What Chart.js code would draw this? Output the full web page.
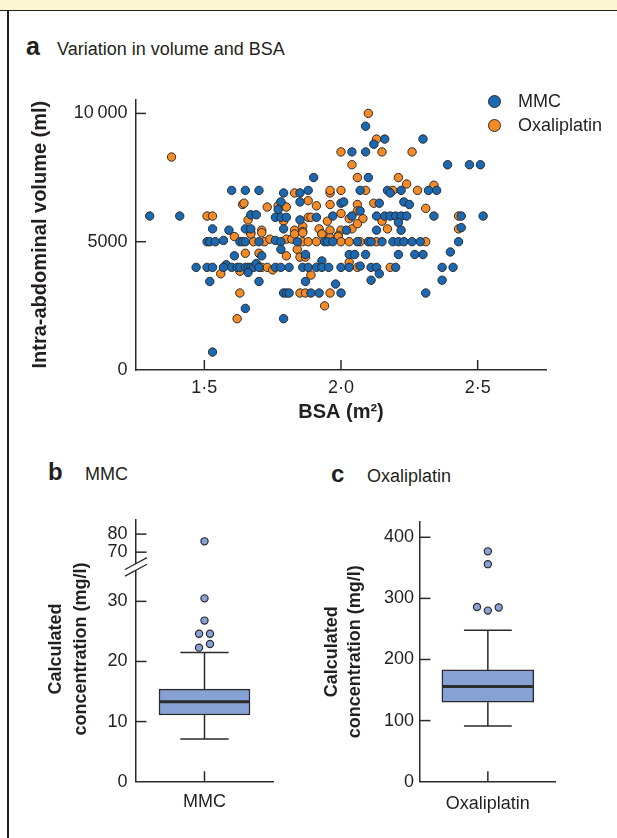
<!DOCTYPE html>
<html><head><meta charset="utf-8">
<script src="https://cdn.jsdelivr.net/npm/chart.js@4.4.1/dist/chart.umd.min.js"></script>
<style>
html,body{margin:0;padding:0;background:#fff;}
body{width:617px;height:838px;position:relative;overflow:hidden;font-family:'Liberation Sans',Arial,Helvetica,sans-serif;color:#231f20;}
.abs{position:absolute;white-space:nowrap;line-height:1;}
#band{position:absolute;left:0;top:0;width:617px;height:10px;background:#fcf5d2;border-bottom:1.5px solid #222;}
#vline{position:absolute;left:7px;top:11px;width:1.5px;height:827px;background:#222;}
canvas{position:absolute;}
</style></head>
<body>
<div id="band"></div>
<div id="vline"></div>
<canvas id="cA" width="617" height="350" style="left:0;top:80px"></canvas>
<canvas id="cB" width="300" height="330" style="left:0;top:500px"></canvas>
<canvas id="cC" width="317" height="330" style="left:300px;top:500px"></canvas>

<div class="abs" style="left:26px;top:34px;font-size:25px;font-weight:bold;">a</div>
<div class="abs" style="left:57px;top:40px;font-size:18px;">Variation in volume and BSA</div>
<div class="abs" style="left:48px;top:460px;font-size:24px;font-weight:bold;">b</div>
<div class="abs" style="left:85px;top:465px;font-size:18px;">MMC</div>
<div class="abs" style="left:331px;top:462px;font-size:24px;font-weight:bold;">c</div>
<div class="abs" style="left:367px;top:467px;font-size:18px;">Oxaliplatin</div>
<div id="titleB" class="abs" style="left:-82.5px;top:624px;width:300px;height:50px;text-align:center;font-size:18px;font-weight:bold;line-height:25px;transform:rotate(-90deg);">Calculated<br>concentration (mg/l)</div>
<div id="legend"></div>

<script>
// ---------------- DATA ----------------
const seriesNames = ['MMC', 'Oxaliplatin'];
const scatterXTicks = [1.5, 2.0, 2.5];
const scatterYTicks = [0, 5000, 10000];

// [BSA (m²), intra-abdominal volume (ml)]
const mmcPoints = [
 [1.30,6000],[1.41,6000],[1.60,7000],[1.65,7000],[1.70,7000],[1.79,6900],[1.85,6900],[1.88,7000],[1.90,7500],
 [1.78,6550],[1.85,6550],[1.77,6250],[1.67,6050],[1.69,6050],[1.76,5950],[1.78,5950],[1.80,5950],[1.85,5850],[1.91,5950],
 [1.53,5500],[1.59,5450],[1.65,5500],[1.67,5500],[1.79,5500],
 [2.09,9500],[2.16,9000],[2.12,8800],[2.30,9000],[2.04,8500],[2.09,8500],[2.39,8000],[2.47,8000],[2.51,8000],[2.10,7500],
 [2.07,7000],[2.17,7000],[2.18,6900],[2.22,7000],[2.32,7000],[2.35,7000],
 [2.00,6500],[2.01,6550],[2.14,6500],[2.23,6550],[2.25,6450],[2.34,6000],[2.44,6000],[2.52,6000],[2.07,6200],[1.97,6000],[2.04,6000],
 [2.13,6000],[2.16,6000],[2.18,6000],[2.20,6000],[2.22,6000],[2.24,6000],[2.21,5750],[2.22,5450],[2.13,5450],[2.44,5550],[2.02,5450],
 [1.51,5000],[1.52,5000],[1.54,5000],[1.57,5050],[1.63,5000],[1.64,5000],[1.65,5000],[1.70,5000],[1.76,5050],[1.78,5000],
 [1.84,5000],[1.94,5000],[1.95,5000],[1.97,5000],[2.06,5000],[2.10,5000],[2.11,5000],[2.15,5000],[2.19,5000],[2.21,5000],
 [2.23,5000],[2.26,5000],[2.29,5000],[2.43,5000],
 [1.61,4450],[1.71,4450],[1.78,4700],[1.87,4500],[1.93,4250],[2.03,4500],[2.05,4500],[2.09,4500],[2.21,4500],[2.27,4500],
 [2.30,4500],[2.40,4600],[1.58,4100],
 [1.47,4000],[1.51,4000],[1.53,4000],[1.57,4000],[1.60,4000],[1.62,4000],[1.63,4000],[1.65,4000],[1.66,4000],[1.67,4000],
 [1.68,4000],[1.69,4150],[1.70,4000],[1.76,4000],[1.78,4000],[1.81,4000],[1.86,4000],[1.88,4000],[1.91,4000],[1.93,4000],
 [1.955,4000],[2.00,4000],[2.03,4000],[2.07,4050],[2.11,4000],[2.13,4000],[2.20,4000],[2.37,4000],[2.41,4000],
 [1.52,3450],[1.70,3450],[1.87,3450],[2.14,3750],[1.98,3350],[2.11,3500],[2.37,3500],[1.66,3800],
 [1.79,3000],[1.80,3000],[1.81,3000],[1.89,3000],[1.92,3000],[2.00,3000],[2.31,3000],
 [1.65,2400],[1.79,2000],[1.53,700]
];
const oxaPoints = [
 [1.38,8300],[1.51,6000],[1.53,6000],[1.64,6450],[1.645,6500],[1.73,6350],[1.77,6400],[1.79,6400],[1.80,6350],[1.83,6900],
 [1.88,6600],[1.91,6400],[1.96,6900],[1.96,6450],
 [1.66,5850],[1.79,5800],[1.88,5950],[1.89,5950],[1.95,5800],[1.67,5350],[1.71,5450],[1.83,5450],[1.86,5600],[1.86,5400],
 [1.92,5500],[1.93,5300],[1.96,5450],[1.61,5200],
 [2.10,10000],[2.13,9000],[2.00,8500],[2.15,8500],[2.26,8500],[2.04,8000],[2.06,7500],[2.21,7500],[2.24,7250],[2.34,7200],
 [1.96,7000],[2.00,7000],[2.09,7000],[2.19,7000],[2.28,7000],[2.06,6450],[2.12,6500],[2.31,6300],[2.43,6000],[2.00,6100],[2.06,6200],
 [2.03,5900],[2.08,5900],[2.15,5800],[2.17,5500],[2.43,5500],[2.00,5450],[2.04,5500],[2.06,5700],[1.99,5250],[1.96,5150],[1.99,5200],
 [1.68,5000],[1.72,5000],[1.74,5100],[1.80,5100],[1.82,5100],[1.86,5000],[1.88,5000],[1.91,5000],[2.00,5000],[2.03,5000],
 [2.07,5000],[2.13,5000],[2.31,5000],
 [1.67,5300],[1.71,5350],[1.83,5300],[1.86,5350],[1.93,5300],
 [1.65,4550],[1.70,4550],[1.80,4450],[1.84,4700],[1.85,4400],[1.87,4400],[2.03,4200],[1.71,4000],[1.73,4000],[1.75,3900],
 [1.56,3750],[1.63,3850],[1.89,3700],[2.06,4000],[2.18,4000],
 [1.63,3000],[1.85,3000],[1.87,3000],[1.96,3000],[1.94,2500],[1.62,2000]
];

// Box plots: [min whisker, Q1, median, Q3, max whisker] in mg/l
const mmcStats = [7.1, 11.1, 13.3, 15.4, 21.5];
const mmcOutliers = [22.3, 22.9, 24.6, 24.6, 26.8, 30.5, 76];
const mmcOutlierJitter = [-0.08, 0.08, -0.08, 0.08, 0, 0, 0];
const mmcLowTicks = [0, 10, 20, 30];
const mmcHighTicks = [70, 80];
const mmcBreak = [35.6, 61.4];

const oxaStats = [91, 130, 156, 183, 248];
const oxaOutliers = [280, 286, 285, 356, 377];
const oxaOutlierJitter = [0, -0.16, 0.16, 0, 0];
const oxaTicks = [0, 100, 200, 300, 400];

// ---------------- STYLE ----------------
const FONT = "'Liberation Sans', Arial, Helvetica, sans-serif";
const INK = '#231f20';
const LINE = '#2b2b2b';
const seriesColors = ['#1b69b3', '#f68b26'];
const BOX_FILL = '#87a1d5';
Chart.defaults.font.family = FONT;
Chart.defaults.color = INK;

const inwardTicks = {
  id: 'inwardTicks',
  afterDraw(chart, args, opts) {
    const ctx = chart.ctx;
    ctx.save();
    ctx.strokeStyle = opts.color || LINE;
    ctx.lineWidth = opts.width || 1.5;
    const len = opts.len || 10;
    for (const id of Object.keys(chart.scales)) {
      const s = chart.scales[id];
      const skip = (opts.skip && opts.skip[id]) || [];
      s.ticks.forEach(t => {
        if (skip.includes(t.value)) return;
        const p = s.getPixelForValue(t.value);
        ctx.beginPath();
        if (s.isHorizontal()) { ctx.moveTo(p, s.top); ctx.lineTo(p, s.top - len); }
        else { ctx.moveTo(s.right, p); ctx.lineTo(s.right + len, p); }
        ctx.stroke();
      });
    }
    ctx.restore();
  }
};

const boxExtras = {
  id: 'boxExtras',
  afterDatasetsDraw(chart, args, o) {
    if (!o.stats) return;
    const ctx = chart.ctx;
    const ys = chart.scales[o.yAxisID];
    const bar = chart.getDatasetMeta(0).data[0];
    const cx = bar.x, half = bar.width / 2, cap = half * o.capFrac;
    const [mn, q1, md, q3, mx] = o.stats.map(v => ys.getPixelForValue(v));
    ctx.save();
    ctx.strokeStyle = LINE;
    ctx.lineWidth = 1.5;
    ctx.beginPath();
    ctx.moveTo(cx, q3); ctx.lineTo(cx, mx);
    ctx.moveTo(cx - cap, mx); ctx.lineTo(cx + cap, mx);
    ctx.moveTo(cx, q1); ctx.lineTo(cx, mn);
    ctx.moveTo(cx - cap, mn); ctx.lineTo(cx + cap, mn);
    ctx.stroke();
    ctx.lineWidth = 3;
    ctx.beginPath();
    ctx.moveTo(cx - half + 1, md); ctx.lineTo(cx + half - 1, md);
    ctx.stroke();
    ctx.restore();
  }
};

const axisBreak = {
  id: 'axisBreak',
  afterDraw(chart, args, o) {
    const hi = chart.scales[o.upper];
    const ctx = chart.ctx;
    const x = hi.right, y = hi.bottom - 0.8, g = 3.3, dx = 11, dy = 5.9;
    ctx.save();
    ctx.fillStyle = '#fff';
    ctx.beginPath();
    ctx.moveTo(x - dx, y - g + dy); ctx.lineTo(x + dx, y - g - dy);
    ctx.lineTo(x + dx, y + g - dy); ctx.lineTo(x - dx, y + g + dy); ctx.closePath();
    ctx.fill();
    ctx.strokeStyle = LINE; ctx.lineWidth = 1.3;
    ctx.beginPath();
    ctx.moveTo(x - dx, y - g + dy); ctx.lineTo(x + dx, y - g - dy);
    ctx.moveTo(x - dx, y + g + dy); ctx.lineTo(x + dx, y + g - dy);
    ctx.stroke();
    ctx.restore();
  }
};

const fmtThousands = v => v >= 10000 ? String(v).replace(/\B(?=(\d{3})+(?!\d))/g, '\u2009') : String(v);
const tickFont = {size: 18};
const axisBorder = {display: true, color: LINE, width: 1.5};
const noGrid = {display: false, drawTicks: false};
const base = {responsive: false, animation: false, devicePixelRatio: 1, events: []};

// ---------------- Panel a: scatter ----------------
const chartA = new Chart(document.getElementById('cA'), {
  type: 'scatter',
  data: { datasets: [
    {label: seriesNames[0], data: mmcPoints.map(p => ({x: p[0], y: p[1]})), backgroundColor: seriesColors[0]},
    {label: seriesNames[1], data: oxaPoints.map(p => ({x: p[0], y: p[1]})), backgroundColor: seriesColors[1]}
  ]},
  options: Object.assign({}, base, {
    layout: {padding: {top: 16, right: 71, left: 0, bottom: 0}},
    elements: {point: {radius: 4.2, borderWidth: 1, borderColor: LINE}},
    plugins: {legend: {display: false}, tooltip: {enabled: false}, inwardTicks: {len: 10, skip: {y: [0]}}},
    scales: {
      x: {type: 'linear', min: 1.25, max: 2.75, offset: false, grid: noGrid, border: axisBorder,
          afterBuildTicks: s => { s.ticks = scatterXTicks.map(v => ({value: v})); },
          afterFit: s => { s.height = 60; },
          ticks: {font: tickFont, padding: 7, maxRotation: 0, autoSkip: false,
                  callback: v => Number(v).toFixed(1).replace('.', '\u00B7')},
          title: {display: true, text: 'BSA (m\u00B2)', font: {size: 20, weight: 'bold'}, padding: {top: 0, bottom: 6}}},
      y: {type: 'linear', min: 0, max: 10550, grid: noGrid, border: axisBorder,
          afterBuildTicks: s => { s.ticks = scatterYTicks.map(v => ({value: v})); },
          afterFit: s => { s.width = 136; },
          ticks: {font: tickFont, padding: 8.5, autoSkip: false, callback: v => fmtThousands(v)},
          title: {display: true, text: 'Intra-abdominal volume (ml)', font: {size: 20, weight: 'bold'}, padding: {top: 28, bottom: 0}}}
    }
  }),
  plugins: [inwardTicks]
});

// HTML legend built from the chart datasets
(function () {
  const legendY = [101, 125];
  const host = document.getElementById('legend');
  chartA.data.datasets.forEach((ds, i) => {
    const dot = document.createElement('div');
    dot.style.cssText = `position:absolute;left:488px;top:${legendY[i] - 6.5}px;width:11px;height:11px;border-radius:50%;border:1px solid ${LINE};background:${ds.backgroundColor};`;
    host.appendChild(dot);
    const lab = document.createElement('div');
    lab.className = 'abs';
    lab.style.cssText = `left:518px;top:${legendY[i] - 8.7}px;font-size:18px;`;
    lab.textContent = ds.label;
    host.appendChild(lab);
  });
})();

// ---------------- Panel b: MMC box plot (broken axis) ----------------
const mmcOut = mmcOutliers.map((v, i) => ({x: mmcOutlierJitter[i], y: v}));
new Chart(document.getElementById('cB'), {
  type: 'bar',
  data: { datasets: [
    {type: 'bar', label: 'MMC', data: [{x: 0, y: [mmcStats[1], mmcStats[3]]}], yAxisID: 'yLow',
     backgroundColor: BOX_FILL, borderColor: LINE, borderWidth: 1.5, borderSkipped: false, barThickness: 91, grouped: false},
    {type: 'scatter', data: mmcOut.filter(p => p.y <= mmcBreak[0]), yAxisID: 'yLow',
     backgroundColor: BOX_FILL, borderColor: LINE, borderWidth: 1.2, pointRadius: 3.6},
    {type: 'scatter', data: mmcOut.filter(p => p.y >= mmcBreak[1]), yAxisID: 'yHigh',
     backgroundColor: BOX_FILL, borderColor: LINE, borderWidth: 1.2, pointRadius: 3.6}
  ]},
  options: Object.assign({}, base, {
    layout: {padding: {top: 16, right: 27, left: 0, bottom: 0}},
    plugins: {legend: {display: false}, tooltip: {enabled: false},
              inwardTicks: {len: 10.5, skip: {yLow: [0]}},
              boxExtras: {stats: mmcStats, yAxisID: 'yLow', capFrac: 0.53},
              axisBreak: {upper: 'yHigh'}},
    scales: {
      x: {type: 'linear', min: -1, max: 1, offset: false, grid: noGrid, border: axisBorder,
          afterBuildTicks: s => { s.ticks = [{value: 0}]; },
          afterFit: s => { s.height = 48.3; },
          ticks: {font: tickFont, padding: 10, maxRotation: 0, autoSkip: false, callback: () => seriesNames[0]}},
      yLow: {type: 'linear', position: 'left', stack: 'mmc', stackWeight: 216.7, weight: 1,
             min: 0, max: mmcBreak[0], grid: noGrid, border: axisBorder,
             afterBuildTicks: s => { s.ticks = mmcLowTicks.map(v => ({value: v})); },
             afterFit: s => { s.width = 136; },
             ticks: {font: tickFont, padding: 8.5, autoSkip: false}},
      yHigh: {type: 'linear', position: 'left', stack: 'mmc', stackWeight: 49, weight: 2,
              min: mmcBreak[1], max: 88.2, grid: noGrid, border: axisBorder,
              afterBuildTicks: s => { s.ticks = mmcHighTicks.map(v => ({value: v})); },
              afterFit: s => { s.width = 136; },
              ticks: {font: tickFont, padding: 8.5, autoSkip: false}}
    }
  }),
  plugins: [inwardTicks, boxExtras, axisBreak]
});

// ---------------- Panel c: Oxaliplatin box plot ----------------
new Chart(document.getElementById('cC'), {
  type: 'bar',
  data: { datasets: [
    {type: 'bar', label: 'Oxaliplatin', data: [{x: 0, y: [oxaStats[1], oxaStats[3]]}], yAxisID: 'y',
     backgroundColor: BOX_FILL, borderColor: LINE, borderWidth: 1.5, borderSkipped: false, barThickness: 92, grouped: false},
    {type: 'scatter', data: oxaOutliers.map((v, i) => ({x: oxaOutlierJitter[i], y: v})), yAxisID: 'y',
     backgroundColor: BOX_FILL, borderColor: LINE, borderWidth: 1.2, pointRadius: 3.6}
  ]},
  options: Object.assign({}, base, {
    layout: {padding: {top: 21.7, right: 61.3, left: 0, bottom: 0}},
    plugins: {legend: {display: false}, tooltip: {enabled: false},
              inwardTicks: {len: 10.5, skip: {y: [0]}},
              boxExtras: {stats: oxaStats, yAxisID: 'y', capFrac: 0.52}},
    scales: {
      x: {type: 'linear', min: -1, max: 1, offset: false, grid: noGrid, border: axisBorder,
          afterBuildTicks: s => { s.ticks = [{value: 0}]; },
          afterFit: s => { s.height = 48.3; },
          ticks: {font: tickFont, padding: 11.5, maxRotation: 0, autoSkip: false, callback: () => seriesNames[1]}},
      y: {type: 'linear', position: 'left', min: 0, max: 425.5, grid: noGrid, border: axisBorder,
          afterBuildTicks: s => { s.ticks = oxaTicks.map(v => ({value: v})); },
          afterFit: s => { s.width = 120; },
          ticks: {font: tickFont, padding: 6, autoSkip: false},
          title: {display: true, text: ['Calculated', 'concentration (mg/l)'],
                  font: {size: 18, weight: 'bold', lineHeight: 1.3}, padding: {top: 20, bottom: 0}}}
    }
  }),
  plugins: [inwardTicks, boxExtras]
});
</script>
</body></html>
